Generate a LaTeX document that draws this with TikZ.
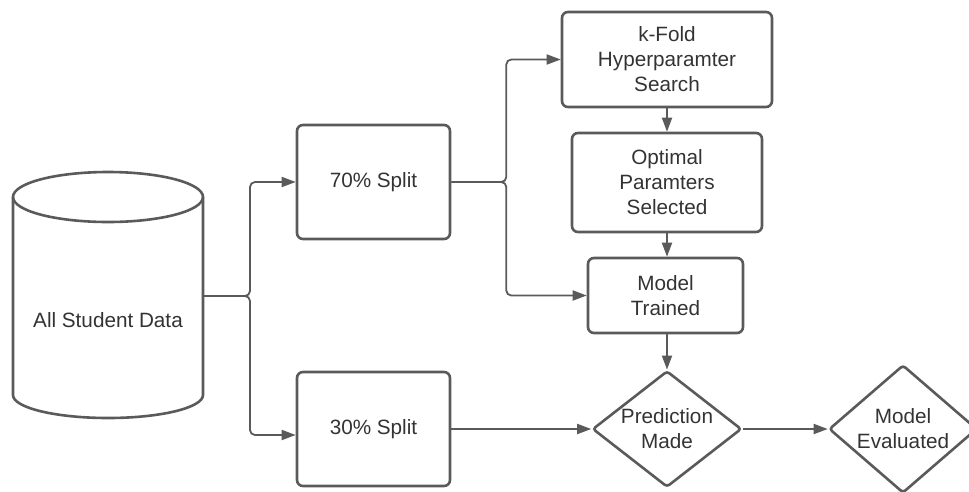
\documentclass[tikz,border=0pt]{standalone}
\usepackage{fontspec}
\setmainfont{Liberation Sans}
\usetikzlibrary{arrows.meta, calc, shapes.geometric}
\definecolor{lineGrey}{HTML}{5A5A5A}
\definecolor{textGrey}{HTML}{333333}
\tikzset{
  box/.style={draw=lineGrey, line width=2.6pt, rounded corners=6pt, align=center, inner sep=0pt},
  decision/.style={diamond, draw=lineGrey, line width=2.6pt, rounded corners=3pt, align=center, inner sep=-4pt},
  conn/.style={draw=lineGrey, line width=1.8pt, rounded corners=5pt},
}

\begin{document}
\begin{tikzpicture}[x=1pt, y=-1pt, font=\fontsize{20.7}{25}\selectfont, text=textGrey,
  >={Triangle[length=14pt, width=10pt]}]
  \clip (0,0) rectangle (969,491);
  % data store drawn by hand
  \draw[lineGrey, line width=2.6pt] (13,197) -- (13,395)
    arc[start angle=180, end angle=360, x radius=95pt, y radius=23pt] -- (203,197);
  \draw[lineGrey, line width=2.6pt] (108,197) ellipse [x radius=95pt, y radius=25pt];
  \node (data) at (108,320) {All Student Data};
  \coordinate (dataout) at (203,296);
  % the two splits
  \node[box, minimum width=153pt, minimum height=114pt] (split70) at (373.5,182) {70\% Split};
  \node[box, minimum width=153pt, minimum height=114pt] (split30) at (373.5,429) {30\% Split};
  % training branch
  \node[box, minimum width=210pt, minimum height=95pt] (kfold) at (667,59.5) {k-Fold\\Hyperparamter\\Search};
  \node[box, minimum width=190pt, minimum height=99pt] (optimal) at (667,182.5) {Optimal\\Paramters\\Selected};
  \node[box, minimum width=155pt, minimum height=75pt] (trained) at (665.5,295.5) {Model\\Trained};
  % decisions
  \node[decision, minimum width=149pt, minimum height=111pt] (predict) at (667,429) {Prediction\\Made};
  \node[decision, minimum width=148pt, minimum height=128pt] (evaluated) at (903,429) {Model\\Evaluated};
  % connectors
  \draw[conn, ->] (dataout) -- ++(47,0) |- (split70.west);
  \draw[conn, ->] (dataout) -- ++(47,0) |- ([yshift=-6pt]split30.west);
  \draw[conn, ->] (split70.east) -- ++(55,0) |- (kfold.west);
  \draw[conn, ->] (split70.east) -- ++(55,0) |- (trained.west);
  \draw[conn, ->] (kfold.south) -- (optimal.north);
  \draw[conn, ->] (optimal.south) -- (optimal.south |- trained.north);
  \draw[conn, ->] (trained.south -| predict.north) -- (predict.north);
  \draw[conn, ->] (split30.east) -- (predict.west);
  \draw[conn, ->] (predict.east) -- (evaluated.west);
\end{tikzpicture}
\end{document}
